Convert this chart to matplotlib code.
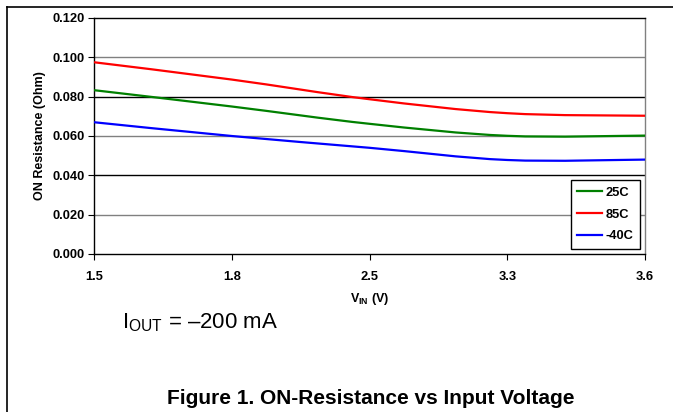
import matplotlib
matplotlib.use('Agg')
import matplotlib.pyplot as plt
from matplotlib.path import Path
from matplotlib.patches import PathPatch
from matplotlib.lines import Line2D

plt.rcParams['font.family'] = ['Liberation Sans', 'DejaVu Sans']
plt.rcParams['mathtext.fontset'] = 'custom'
plt.rcParams['mathtext.rm'] = 'Liberation Sans'
plt.rcParams['mathtext.bf'] = 'Liberation Sans:bold'

# data
vin_labels = ['1.5', '1.8', '2.5', '3.3', '3.6']
r_25c = [0.0833, 0.0750, 0.0662, 0.0601, 0.0602]
r_85c = [0.0975, 0.0887, 0.0787, 0.0716, 0.0703]
r_m40c = [0.0670, 0.0600, 0.0540, 0.0478, 0.0480]

series = [('25C', r_25c, '#008000'), ('85C', r_85c, '#ff0000'), ('-40C', r_m40c, '#0000ff')]


def smooth_path(xs, ys):
    # Excel-style smoothed line: Catmull-Rom segments as cubic Beziers
    pts = list(zip(xs, ys))
    verts = [pts[0]]
    codes = [Path.MOVETO]
    n = len(pts)
    for i in range(n - 1):
        p0 = pts[max(i - 1, 0)]
        p1 = pts[i]
        p2 = pts[i + 1]
        p3 = pts[min(i + 2, n - 1)]
        c1 = (p1[0] + (p2[0] - p0[0]) / 6, p1[1] + (p2[1] - p0[1]) / 6)
        c2 = (p2[0] - (p3[0] - p1[0]) / 6, p2[1] - (p3[1] - p1[1]) / 6)
        verts += [c1, c2, p2]
        codes += [Path.CURVE4] * 3
    return Path(verts, codes)


fig = plt.figure(figsize=(6.73, 4.12), dpi=100)
ax = fig.add_axes([94 / 673, 1 - 254 / 412, 551 / 673, 236 / 412])

x = list(range(len(vin_labels)))
handles = []
for name, vals, col in series:
    ax.add_patch(PathPatch(smooth_path(x, vals), fill=False, edgecolor=col, lw=1.6, zorder=3))
    handles.append(Line2D([], [], color=col, lw=1.6, label=name))

ax.set_xlim(0, len(vin_labels) - 1)
ax.set_ylim(0, 0.12)
yt = [0, 0.02, 0.04, 0.06, 0.08, 0.10, 0.12]
ax.set_yticks(yt)
ax.set_yticklabels(['%.3f' % v for v in yt])
ax.set_xticks(x)
ax.set_xticklabels(vin_labels)

for i, v in enumerate(yt[1:-1]):
    ax.axhline(v, color='#808080' if i % 2 == 0 else 'black', lw=1.0, zorder=1)

for lab in ax.get_xticklabels() + ax.get_yticklabels():
    lab.set_fontweight('bold')
    lab.set_fontsize(9.3)
ax.tick_params(axis='y', direction='out', length=4, width=0.8, pad=3)
ax.tick_params(axis='x', direction='out', length=4, width=0.8, pad=8)

ax.spines['left'].set_color('black')
ax.spines['bottom'].set_color('black')
ax.spines['top'].set_color('black')
ax.spines['right'].set_color('#808080')
for s in ax.spines.values():
    s.set_linewidth(1.0)

ax.set_ylabel('ON Resistance (Ohm)', fontsize=9, fontweight='bold', labelpad=4)
ax.set_xlabel(r'V$_{\mathbf{IN}}$ (V)', fontsize=9, fontweight='bold', labelpad=6)

leg = ax.legend(handles=handles, loc='lower right', fancybox=False, framealpha=1,
                edgecolor='black', prop={'weight': 'bold', 'size': 9.3},
                handlelength=1.9, handletextpad=0.3, borderpad=0.5, labelspacing=0.75,
                borderaxespad=0.4)
leg.get_frame().set_linewidth(1.0)

fig.text(122 / 673, 1 - 323 / 412, 'I$_{\\mathrm{OUT}}$ = \u2013200 mA',
         fontsize=16, ha='left', va='center')
fig.text(371 / 673, 1 - 398 / 412, 'Figure 1. ON-Resistance vs Input Voltage', fontsize=15,
         fontweight='bold', ha='center', va='center')

# page frame lines (left and top)
fig.add_artist(Line2D([7 / 673, 7 / 673], [0, 1 - 7 / 412], color='black', lw=1.2, transform=fig.transFigure))
fig.add_artist(Line2D([7 / 673, 1], [1 - 7 / 412, 1 - 7 / 412], color='black', lw=1.2, transform=fig.transFigure))

fig.savefig('out.png', dpi=100)
